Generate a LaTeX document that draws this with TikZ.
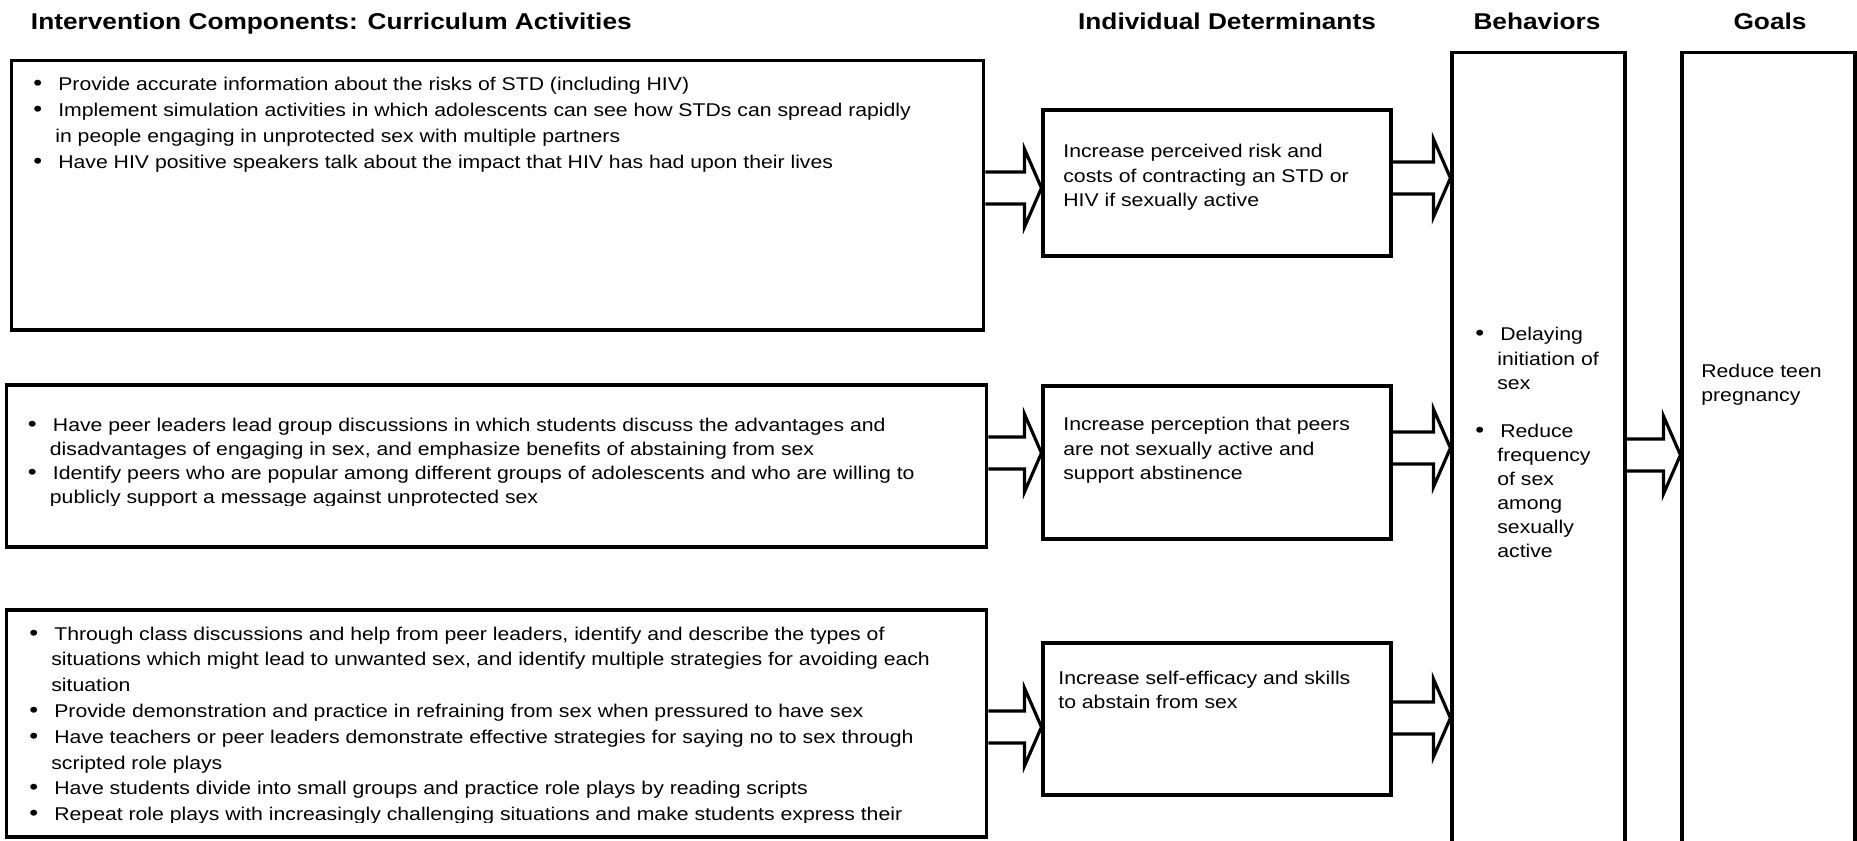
\documentclass[tikz,border=0pt]{standalone}
\usepackage{fontspec}
\setmainfont[FakeStretch=1.15]{Liberation Sans}
\usetikzlibrary{calc}

\newcommand{\bul}{\makebox[0.50cm][l]{{\fontsize{12.5}{12}\selectfont\textbullet}}}
\newcommand{\cont}{\hspace*{0.44cm}}
% block arrow: from node, to node, y of the tip
\newcommand{\fatarrow}[3]{%
  \draw[fat] ($(#1.east |- 0,#3)+(0,-16)$) -- ($(#2.west |- 0,#3)+(-17,-16)$)
    -- ++(0,-23) -- (#2.west |- 0,#3) -- ++(-17,39) -- ++(0,-23)
    -- ($(#1.east |- 0,#3)+(0,16)$);}

\begin{document}
\begin{tikzpicture}[x=0.02cm, y=-0.02cm,
      box/.style={draw, line width=1.8pt, inner sep=0pt},
      comp/.style={box, minimum width=19.62cm},
      det/.style={box, minimum width=6.96cm},
      col/.style={box, minimum width=3.46cm, minimum height=16.96cm},
      txt/.style={align=left, inner sep=0pt, anchor=base west, font=\fontsize{10.5}{13.7}\selectfont},
      loose/.style={font=\fontsize{10.5}{14.7}\selectfont},
      head/.style={inner sep=0pt, anchor=base, font=\bfseries\fontsize{13}{15}\selectfont},
      fat/.style={line width=1.8pt, line join=miter}]
    \useasboundingbox (0,0) rectangle (1857,840);
    \clip (0,0) rectangle (1857,840);
    % column headings
    \node[head, anchor=base west] (hcomp) at (30.6,29) {Intervention Components: Curriculum Activities};
    \node[head] (hdet) at (1227,29) {Individual Determinants};
    \node[head] (hbeh) at (1537,29) {Behaviors};
    \node[head] (hgoal) at (1770,29) {Goals};
    % boxes
    \node[box, minimum width=19.46cm, minimum height=5.39cm] (b1) at (497.5,195.25) {};
    \node[comp, minimum height=3.24cm] (b2) at (496.5,466) {};
    \node[comp, minimum height=4.54cm] (b3) at (496.5,723.5) {};
    \node[det, minimum height=2.92cm] (d1) at (1217,183) {};
    \node[det, minimum height=3.06cm] (d2) at (1217,462.5) {};
    \node[det, minimum height=3.04cm] (d3) at (1217,719) {};
    \node[col] (beh) at (1538.5,476) {};
    \node[col] (goal) at (1768.5,476) {};
    % texts (placed at the baseline of their last line)
    \node[txt, loose] (t1) at (33,168) {\bul Provide accurate information about the risks of STD (including HIV)\\
      \bul Implement simulation activities in which adolescents can see how STDs can spread rapidly\\
      \cont in people engaging in unprotected sex with multiple partners\\
      \bul Have HIV positive speakers talk about the impact that HIV has had upon their lives};
    \begin{scope}
      \clip (0,380) rectangle (1000,505);
      \node[txt] (t2) at (27.6,503.9) {\bul Have peer leaders lead group discussions in which students discuss the advantages and\\
        \cont disadvantages of engaging in sex, and emphasize benefits of abstaining from sex\\
        \bul Identify peers who are popular among different groups of adolescents and who are willing to\\
        \cont publicly support a message against unprotected sex};
    \end{scope}
    \begin{scope}
      \clip (0,600) rectangle (1000,822);
      \node[txt, loose] (t3) at (29,820.8) {\bul Through class discussions and help from peer leaders, identify and describe the types of\\
        \cont situations which might lead to unwanted sex, and identify multiple strategies for avoiding each\\
        \cont situation\\
        \bul Provide demonstration and practice in refraining from sex when pressured to have sex\\
        \bul Have teachers or peer leaders demonstrate effective strategies for saying no to sex through\\
        \cont scripted role plays\\
        \bul Have students divide into small groups and practice role plays by reading scripts\\
        \bul Repeat role plays with increasingly challenging situations and make students express their};
    \end{scope}
    \node[txt] (td1) at (1063,206.1) {Increase perceived risk and\\costs of contracting an STD or\\HIV if sexually active};
    \node[txt] (td2) at (1063,479.1) {Increase perception that peers\\are not sexually active and\\support abstinence};
    \node[txt] (td3) at (1058,708.1) {Increase self-efficacy and skills\\to abstain from sex};
    \node[txt] (tbeh) at (1475,557.6) {\bul Delaying\\ \cont initiation of\\ \cont sex\\[13.7pt]
      \bul Reduce\\ \cont frequency\\ \cont of sex\\ \cont among\\ \cont sexually\\ \cont active};
    \node[txt] (tgoal) at (1701,401.8) {Reduce teen\\pregnancy};
    % arrows
    \fatarrow{b1}{d1}{188}
    \fatarrow{d1}{beh}{178}
    \fatarrow{b2}{d2}{453}
    \fatarrow{d2}{beh}{448}
    \fatarrow{b3}{d3}{727}
    \fatarrow{d3}{beh}{718}
    \fatarrow{beh}{goal}{455}
  \end{tikzpicture}
\end{document}
